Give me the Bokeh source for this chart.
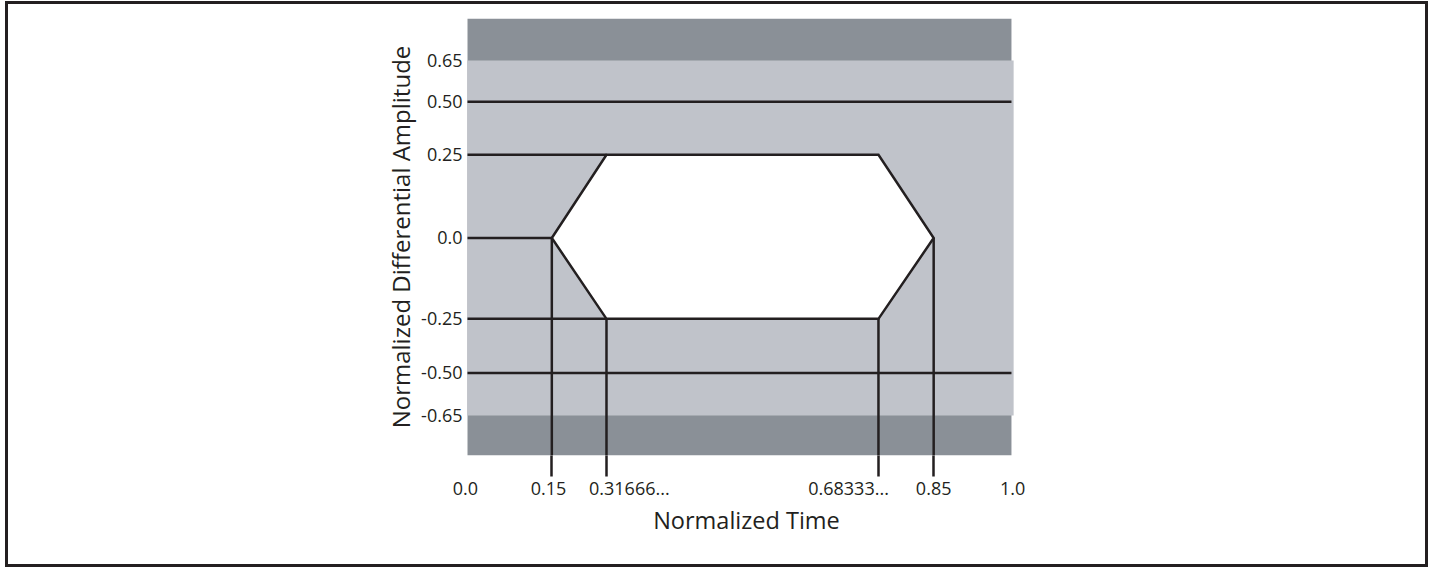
import numpy as np
from bokeh.plotting import figure
from bokeh.models import Range1d, FixedTicker
from bokeh.embed import file_html
from bokeh.resources import INLINE

# ---------------- data (normalized values) ----------------
x_ticks = [0.0, 0.15, 0.31666, 0.68333, 0.85, 1.0]
x_tick_labels = ["0.0", "0.15", "0.31666...", "0.68333...", "0.85", "1.0"]
y_ticks = [0.65, 0.50, 0.25, 0.0, -0.25, -0.50, -0.65]
y_tick_labels = ["0.65", "0.50", "0.25", "0.0", "-0.25", "-0.50", "-0.65"]

# eye-mask hexagon (normalized time, normalized differential amplitude)
mask_time = [0.15, 0.31666, 0.68333, 0.85, 0.68333, 0.31666]
mask_amp = [0.0, 0.25, 0.25, 0.0, -0.25, -0.25]

# full-width limit lines and inner band
limit_amp = [0.50, -0.50]
band_amp = 0.65

# leader lines from the axes to the mask vertices
h_lead_amp = [0.25, 0.0, -0.25]
h_lead_end = [0.31666, 0.15, 0.31666]
v_lead_time = [0.15, 0.31666, 0.68333, 0.85]
v_lead_amp = [0.0, -0.25, -0.25, 0.0]

# ---------------- schematic axis layout (not to scale in the original) ----------------
x_draw = [0.0, 0.155, 0.2555, 0.7555, 0.857, 1.0]
y_draw = [0.65, 0.499, 0.305, 0.0, -0.296, -0.494, -0.65]
x_label_shift = [-0.004, -0.006, 0.042, -0.055, 0.0, 0.002]


def fx(t):
    return np.interp(t, x_ticks, x_draw)


def fy(v):
    return np.interp(v, y_ticks[::-1], y_draw[::-1])


INK = "#231f20"
DARK = "#8a9097"
LIGHT = "#c0c3ca"
FONT = "Open Sans"

y0, y1 = -0.7964, 0.8037
p = figure(width=1423, height=566, output_backend="svg", toolbar_location=None,
           x_range=Range1d(-0.0092, 1.035), y_range=Range1d(y0, y1),
           min_border_left=454, min_border_right=401, min_border_top=14, min_border_bottom=115,
           x_axis_label="Normalized Time", y_axis_label="Normalized Differential Amplitude")
p.styles = {"border": "3px solid " + INK, "margin-left": "5px", "margin-top": "1px"}
p.outline_line_color = None
p.grid.visible = False
p.background_fill_color = "white"
p.border_fill_color = "white"

# zones
p.quad(left=[0.0], right=[1.0], bottom=[y0], top=[y1], fill_color=DARK, line_color=None)
p.quad(left=[0.0], right=[1.004], bottom=[fy(-band_amp)], top=[fy(band_amp)],
       fill_color=LIGHT, line_color=None)

LW = 2.5
# limit lines
ly = fy(np.array(limit_amp))
p.segment(x0=[0.0] * len(ly), x1=[1.0] * len(ly), y0=ly, y1=ly, line_color=INK, line_width=LW)
# horizontal leaders
hy = fy(np.array(h_lead_amp))
p.segment(x0=[0.0] * len(hy), x1=fx(np.array(h_lead_end)), y0=hy, y1=hy,
          line_color=INK, line_width=LW)
# vertical leaders
vx = fx(np.array(v_lead_time))
p.segment(x0=vx, x1=vx, y0=fy(np.array(v_lead_amp)), y1=[y0] * len(vx),
          line_color=INK, line_width=LW)
# mask
p.patch(fx(np.array(mask_time)), fy(np.array(mask_amp)), fill_color="white",
        line_color=INK, line_width=LW, line_join="miter")

# x axis
xpos = [round(float(a + b), 4) for a, b in zip(fx(np.array(x_ticks)), x_label_shift)]
xa = p.xaxis[0]
xa.ticker = FixedTicker(ticks=xpos, minor_ticks=[round(float(v), 4) for v in vx])
xa.major_label_overrides = {k: lab for k, lab in zip(xpos, x_tick_labels)}
xa.axis_line_color = None
xa.major_tick_line_color = None
xa.major_tick_out = 0
xa.major_tick_in = 0
xa.minor_tick_out = 21
xa.minor_tick_in = 0
xa.minor_tick_line_width = LW
xa.minor_tick_line_color = INK
xa.major_label_standoff = 5
xa.axis_label_standoff = 6

# y axis
ypos = [round(float(v), 4) for v in fy(np.array(y_ticks))]
ya = p.yaxis[0]
ya.ticker = FixedTicker(ticks=ypos)
ya.major_label_overrides = {k: lab for k, lab in zip(ypos, y_tick_labels)}
ya.axis_line_color = None
ya.major_tick_line_color = None
ya.minor_tick_line_color = None
ya.major_tick_out = 0
ya.major_tick_in = 0
ya.major_label_standoff = 0
ya.axis_label_standoff = 1

for ax in (xa, ya):
    ax.major_label_text_font = FONT
    ax.major_label_text_font_size = "18px"
    ax.major_label_text_color = INK
    ax.axis_label_text_font = FONT
    ax.axis_label_text_font_style = "normal"
    ax.axis_label_text_color = INK
xa.axis_label_text_font_size = "23.5px"
ya.axis_label_text_font_size = "24px"

open("out.html", "w").write(file_html(p, INLINE))
